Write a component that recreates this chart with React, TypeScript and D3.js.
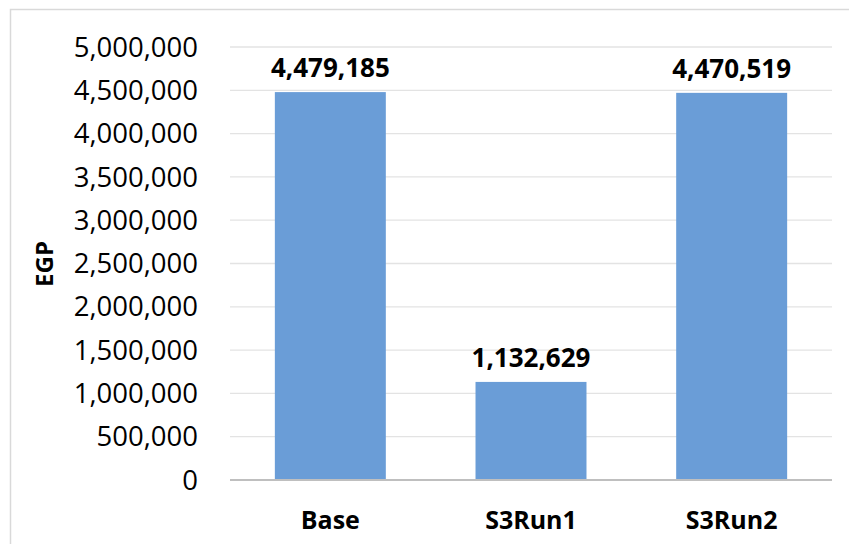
import React from "react";
import * as d3 from "d3";

const categories = ["Base", "S3Run1", "S3Run2"];
const values = [4479185, 1132629, 4470519];
const yTicks = [0, 500000, 1000000, 1500000, 2000000, 2500000, 3000000, 3500000, 4000000, 4500000, 5000000];
const yTitle = "EGP";

const W = 849;
const H = 544;
const plot = { left: 230, right: 832, top: 47, bottom: 480 };
const font = "'Open Sans', sans-serif";
const fmt = d3.format(",");

export default function App() {
  const x = d3
    .scaleBand<string>()
    .domain(categories)
    .range([plot.left, plot.right])
    .paddingInner(0.447)
    .paddingOuter(0.2235);
  const y = d3.scaleLinear().domain([0, 5000000]).range([plot.bottom, plot.top]);

  return (
    <svg
      width={W}
      height={H}
      style={{ position: "absolute", left: 0, top: 0, background: "#fff" }}
      fontFamily={font}
    >
      <rect x={10.5} y={9.5} width={W} height={H} fill="#fff" stroke="#d9d9d9" strokeWidth={1.5} />
      {yTicks.map((t) => (
        <g key={t}>
          {t > 0 && (
            <line x1={plot.left} x2={plot.right} y1={y(t)} y2={y(t)} stroke="#e3e3e3" strokeWidth={1.3} />
          )}
          <text
            x={198}
            y={y(t)}
            dy="0.35em"
            textAnchor="end"
            fontSize={27.5}
            fill="#000"
          >
            {fmt(t)}
          </text>
        </g>
      ))}
      {categories.map((c, i) => (
        <g key={c}>
          <rect
            x={x(c)}
            y={y(values[i])}
            width={x.bandwidth()}
            height={y(0) - y(values[i])}
            fill="#6a9dd7"
          />
          <text
            x={x(c)! + x.bandwidth() / 2}
            y={y(values[i]) - 15}
            textAnchor="middle"
            fontSize={26}
            fontWeight="bold"
            fill="#000"
          >
            {fmt(values[i])}
          </text>
          <text
            x={x(c)! + x.bandwidth() / 2}
            y={529}
            textAnchor="middle"
            fontSize={25}
            fontWeight="bold"
            fill="#000"
          >
            {c}
          </text>
        </g>
      ))}
      <line x1={plot.left} x2={plot.right} y1={y(0)} y2={y(0)} stroke="#bfbfbf" strokeWidth={2.2} />
      <text
        transform={`translate(53,${264}) rotate(-90)`}
        textAnchor="middle"
        fontSize={24}
        fontWeight="bold"
        fill="#000"
      >
        {yTitle}
      </text>
    </svg>
  );
}
